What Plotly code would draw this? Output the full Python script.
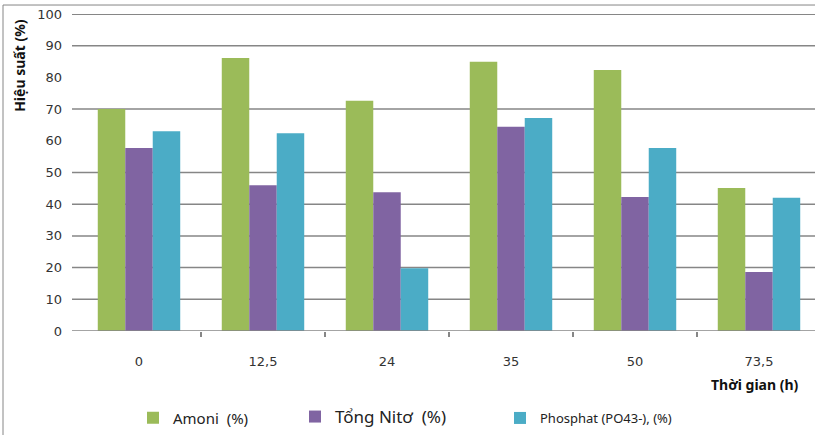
import plotly.graph_objects as go

# Thời gian xử lý (h) và hiệu suất xử lý (%)
categories = ["0", "12,5", "24", "35", "50", "73,5"]
amoni = [70.0, 86.1, 72.6, 84.9, 82.3, 45.1]
tong_nito = [57.7, 46.0, 43.8, 64.4, 42.3, 18.6]
phosphat = [63.0, 62.4, 19.8, 67.2, 57.7, 42.0]
y_ticks = [0, 10, 20, 30, 40, 50, 60, 70, 80, 90, 100]
grid_values = [10, 20, 30, 40, 50, 70, 90, 100]

GREEN = "#9BBB59"
PURPLE = "#8064A2"
BLUE = "#4BACC6"
GRID = "#868686"

W, H = 815, 435
M_L, M_R, M_T, M_B = 77, 0, 14, 103
PW = W - M_L - M_R
PH = H - M_T - M_B

positions = list(range(len(categories)))
boundaries = [p + 0.5 for p in positions]


def px_x(px):
    return (px - M_L) / PW


def px_y(py):
    return (H - M_B - py) / PH


fig = go.Figure()
for name, vals, color, lg in [("Amoni  (%)", amoni, GREEN, "legend"),
                              ("Tổng Nitơ  (%)", tong_nito, PURPLE, "legend2"),
                              ("Phosphat (PO43-), (%)", phosphat, BLUE, "legend3")]:
    fig.add_trace(go.Bar(x=positions, y=vals, name=name, marker_color=color,
                         marker_line_width=0, legend=lg, showlegend=True))

shapes = []
for v in grid_values:
    shapes.append(dict(type="line", xref="paper", yref="y", x0=px_x(M_L - 5), x1=1,
                       y0=v, y1=v, line=dict(color=GRID, width=2 if v == 100 else 1.5),
                       layer="below"))
# x axis baseline
shapes.append(dict(type="line", xref="paper", yref="y", x0=px_x(M_L - 5), x1=1,
                   y0=0, y1=0, line=dict(color=GRID, width=1.5)))
# chart frame (left and top)
shapes.append(dict(type="line", xref="paper", yref="paper", x0=px_x(3), x1=px_x(3),
                   y0=px_y(5), y1=px_y(H + 5), line=dict(color=GRID, width=1)))
shapes.append(dict(type="line", xref="paper", yref="paper", x0=px_x(3), x1=px_x(W + 5),
                   y0=px_y(5), y1=px_y(5), line=dict(color=GRID, width=1)))

legend_common = dict(orientation="h", xanchor="left", yanchor="middle",
                     bgcolor="rgba(0,0,0,0)", borderwidth=0, itemwidth=30,
                     tracegroupgap=0)

fig.update_layout(
    width=W, height=H,
    margin=dict(l=M_L, r=M_R, t=M_T, b=M_B, pad=0),
    paper_bgcolor="white", plot_bgcolor="white",
    barmode="group", bargap=0.335, bargroupgap=0,
    showlegend=True,
    font=dict(family="DejaVu Sans", size=13, color="#333333"),
    shapes=shapes,
    xaxis=dict(range=[-0.5, -0.5 + PW / 124], showgrid=False, showline=False,
               zeroline=False, tickvals=positions, ticktext=categories,
               ticks="", ticklabelstandoff=21,
               minor=dict(tickvals=boundaries, ticks="outside", ticklen=5,
                          tickcolor=GRID, tickwidth=1.5, showgrid=False),
               tickfont=dict(family="DejaVu Sans", size=13, color="#333333"),
               fixedrange=True),
    yaxis=dict(range=[0, 100], tickvals=y_ticks, showgrid=False, zeroline=False,
               showline=False, ticks="", ticklabelstandoff=14,
               tickfont=dict(family="DejaVu Sans", size=13, color="#333333"),
               fixedrange=True),
    legend=dict(x=px_x(133), y=px_y(418),
                font=dict(family="Noto Sans", size=15, color="#222222"), **legend_common),
    legend2=dict(x=px_x(295), y=px_y(418),
                 font=dict(family="Noto Sans", size=17, color="#222222"), **legend_common),
    legend3=dict(x=px_x(500), y=px_y(418),
                 font=dict(family="Noto Sans", size=13, color="#222222"), **legend_common),
    annotations=[
        dict(text="<b>Thời gian (h)</b>", xref="paper", yref="paper",
             x=px_x(801), y=px_y(386), xanchor="right", yanchor="middle",
             showarrow=False, font=dict(family="Noto Sans", size=14, color="#111111")),
        dict(text="<b>Hiệu suất (%)</b>", xref="paper", yref="paper",
             x=px_x(20), y=px_y(66), xanchor="center", yanchor="middle", textangle=-90,
             showarrow=False, font=dict(family="Noto Sans", size=14, color="#111111")),
    ],
)

fig.write_html("out.html")
